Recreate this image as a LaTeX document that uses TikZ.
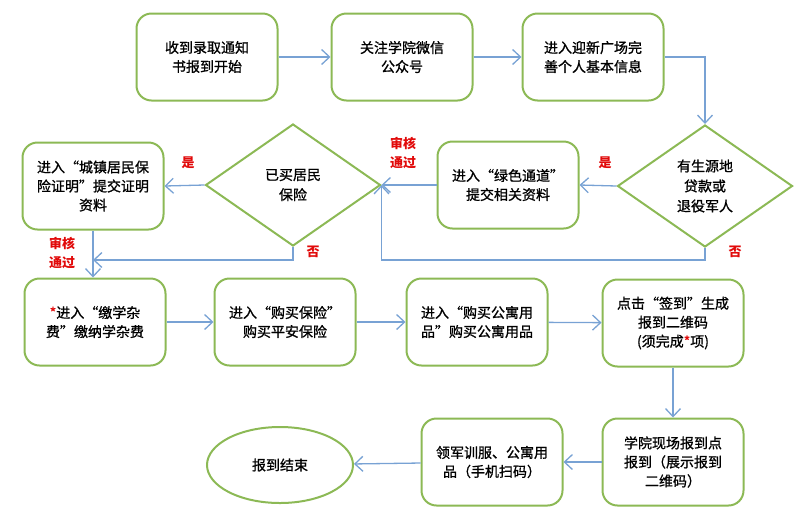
\documentclass[tikz,border=0pt]{standalone}
\usepackage{fontspec}
\newfontfamily\cjk[FakeBold=1]{Noto Sans CJK SC}
\newfontfamily\cjkb{Noto Sans CJK SC}
\usetikzlibrary{shapes.geometric, arrows.meta}
\definecolor{verde}{RGB}{140,185,85}
\definecolor{azul}{RGB}{120,162,212}
\definecolor{vermelho}{RGB}{225,10,10}

\begin{document}
\begin{tikzpicture}[x=1pt, y=-1pt,
    caixa/.style={draw=verde, line width=2pt, rounded corners=15pt, minimum width=141pt, minimum height=87pt, inner sep=2pt, align=center, font=\cjk\fontsize{14}{19}\selectfont},
    losango/.style={draw=verde, line width=2pt, diamond, minimum width=175pt, minimum height=122pt, inner sep=0pt, align=center, font=\cjk\fontsize{14}{20}\selectfont},
    fim/.style={draw=verde, line width=2pt, ellipse, minimum width=146pt, minimum height=76pt, font=\cjk\fontsize{14}{19}\selectfont},
    seta/.style={draw=azul, line width=1.3pt, -{Straight Barb[length=8pt, width=15pt]}},
    rotulo/.style={text=vermelho, align=center, font=\cjkb\bfseries\fontsize{13}{19}\selectfont}]
    \useasboundingbox (0,0) rectangle (799,515);
    % Linha 1
    \node[caixa] (inicio) at (207,57) {收到录取通知\\书报到开始};
    \node[caixa] (wechat) at (402,57) {关注学院微信\\公众号};
    \node[caixa] (dados) at (593,57) {进入迎新广场完\\善个人基本信息};
    % Linha 2
    \node[losango] (emprestimo) at (705,186) {有生源地\\贷款或\\退役军人};
    \node[caixa] (verde) at (508,185) {进入“绿色通道”\\提交相关资料};
    \node[losango] (seguro) at (293,185) {已买居民\\保险};
    \node[caixa] (certidao) at (93,186) {进入“城镇居民保\\险证明”提交证明\\资料};
    % Linha 3
    \node[caixa] (taxas) at (95,322) {{\color{vermelho}*}进入“缴学杂\\费”缴纳学杂费};
    \node[caixa] (apolice) at (285,322) {进入“购买保险”\\购买平安保险};
    \node[caixa] (apartamento) at (477,322) {进入“购买公寓用\\品”购买公寓用品};
    \node[caixa] (qrcode) at (673,323) {点击“签到”生成\\报到二维码\\(须完成{\color{vermelho}*}项)};
    % Linha 4
    \node[caixa] (presencial) at (673,462) {学院现场报到点\\报到（展示报到\\二维码）};
    \node[caixa] (uniforme) at (492,462) {领军训服、公寓用\\品（手机扫码）};
    \node[fim] (fim) at (280,465) {报到结束};
    % Rotulos
    \node[rotulo] (sim1) at (605,163) {是};
    \node[rotulo] (nao1) at (735,252) {否};
    \node[rotulo] (ok1) at (403,153) {审核\\通过};
    \node[rotulo] (sim2) at (188,163) {是};
    \node[rotulo] (nao2) at (313,252) {否};
    \node[rotulo] (ok2) at (62,253) {审核\\通过};
    % Setas
    \coordinate (desvio) at (seguro.east |- 0,260);
    \coordinate (juncao) at (certidao.south |- 0,260);
    \draw[seta] (inicio) -- (wechat);
    \draw[seta] (wechat) -- (dados);
    \draw[seta] (dados.east) -| (emprestimo.north);
    \draw[seta] (emprestimo.west) -- (verde.east);
    \draw[seta] (verde.west) -- (seguro.east);
    \draw[seta] (emprestimo.south) |- (desvio) -- (seguro.east);
    \draw[seta] (seguro.west) -- (certidao.east);
    \draw[seta] (seguro.south) |- (juncao);
    \draw[seta] (certidao.south) -- (certidao.south |- taxas.north);
    \draw[seta] (taxas) -- (apolice);
    \draw[seta] (apolice) -- (apartamento);
    \draw[seta] (apartamento) -- (qrcode);
    \draw[seta] (qrcode) -- (presencial);
    \draw[seta] (presencial) -- (uniforme);
    \draw[seta] (uniforme) -- (fim);
\end{tikzpicture}
\end{document}
